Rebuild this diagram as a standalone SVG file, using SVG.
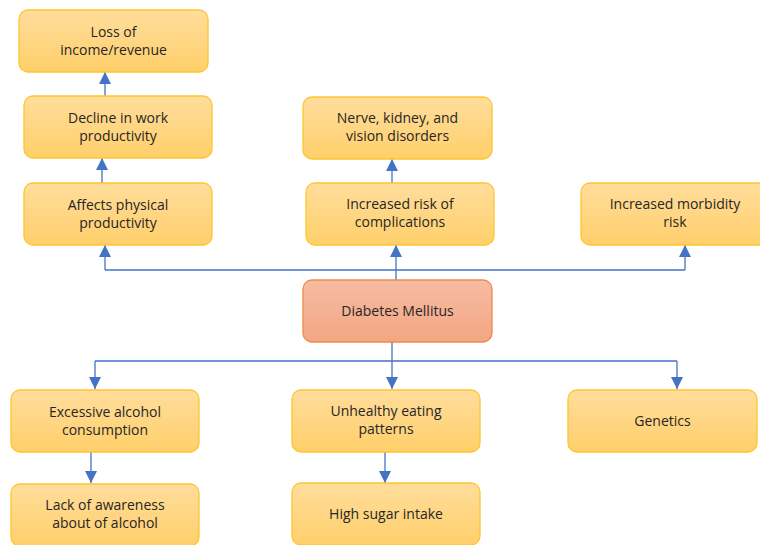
<svg xmlns="http://www.w3.org/2000/svg" width="760" height="545" viewBox="0 0 760 545">
<defs>
<linearGradient id="gy" x1="0" y1="0" x2="0" y2="1"><stop offset="0" stop-color="#FFDD9C"/><stop offset="1" stop-color="#FFCF6A"/></linearGradient>
<linearGradient id="go" x1="0" y1="0" x2="0" y2="1"><stop offset="0" stop-color="#F6BCA3"/><stop offset="1" stop-color="#F3A683"/></linearGradient>
<marker id="ah" viewBox="0 0 12 12" refX="12" refY="6" markerWidth="12" markerHeight="12" markerUnits="userSpaceOnUse" orient="auto"><path d="M0,0 L12,6 L0,12 Z" fill="#4472C4"/></marker>
<style>
.n rect{fill:url(#gy);stroke:#FFC52E;stroke-width:1.3}
.m rect{fill:url(#go);stroke:#F08A4B;stroke-width:1.3}
text{font-family:"Open Sans","Liberation Sans",sans-serif;font-size:14px;fill:#262626;text-anchor:middle}
.c path{fill:none;stroke:#4472C4;stroke-width:1.3}
</style>
</defs>
<rect width="760" height="545" fill="#fff"/>
<g class="c" id="connectors">
<path d="M105,96 V72" marker-end="url(#ah)"/>
<path d="M102,183 V158" marker-end="url(#ah)"/>
<path d="M392,183 V159" marker-end="url(#ah)"/>
<path d="M396,280 V245" marker-end="url(#ah)"/>
<path d="M105,270 H685"/>
<path d="M105,270 V245" marker-end="url(#ah)"/>
<path d="M685,270 V245" marker-end="url(#ah)"/>
<path d="M392,342 V389" marker-end="url(#ah)"/>
<path d="M95,361 H677"/>
<path d="M95,361 V389" marker-end="url(#ah)"/>
<path d="M677,361 V389" marker-end="url(#ah)"/>
<path d="M91,452 V483" marker-end="url(#ah)"/>
<path d="M385,452 V483" marker-end="url(#ah)"/>
</g>
<g class="n" id="loss"><rect x="19" y="10" width="189" height="62" rx="9"/><text x="113.5" y="37">Loss of</text><text x="113.5" y="55">income/revenue</text></g>
<g class="n" id="decline"><rect x="24" y="96" width="188" height="62" rx="9"/><text x="118" y="123">Decline in work</text><text x="118" y="141">productivity</text></g>
<g class="n" id="affects"><rect x="24" y="183" width="188" height="62" rx="9"/><text x="118" y="210">Affects physical</text><text x="118" y="228">productivity</text></g>
<g class="n" id="nerve"><rect x="303" y="97" width="189" height="62" rx="9"/><text x="397.5" y="123">Nerve, kidney, and</text><text x="397.5" y="141">vision disorders</text></g>
<g class="n" id="complications"><rect x="306" y="183" width="188" height="62" rx="9"/><text x="400" y="209">Increased risk of</text><text x="400" y="227">complications</text></g>
<g class="n" id="morbidity"><rect x="581" y="183" width="188" height="62" rx="9"/><text x="675" y="209">Increased morbidity</text><text x="675" y="227">risk</text></g>
<g class="m" id="diabetes"><rect x="303" y="280" width="189" height="62" rx="9"/><text x="397.5" y="316">Diabetes Mellitus</text></g>
<g class="n" id="alcohol"><rect x="11" y="390" width="188" height="62" rx="9"/><text x="105" y="417">Excessive alcohol</text><text x="105" y="435">consumption</text></g>
<g class="n" id="eating"><rect x="292" y="390" width="188" height="62" rx="9"/><text x="386" y="416">Unhealthy eating</text><text x="386" y="434">patterns</text></g>
<g class="n" id="genetics"><rect x="568" y="390" width="189" height="62" rx="9"/><text x="662.5" y="426">Genetics</text></g>
<g class="n" id="awareness"><rect x="11" y="484" width="188" height="62" rx="9"/><text x="105" y="510">Lack of awareness</text><text x="105" y="528">about of alcohol</text></g>
<g class="n" id="sugar"><rect x="292" y="483" width="188" height="62" rx="9"/><text x="386" y="519">High sugar intake</text></g>
</svg>
